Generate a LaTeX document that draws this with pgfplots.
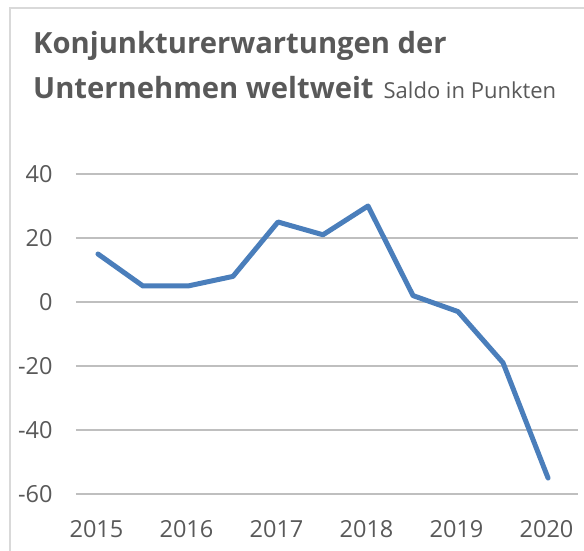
\documentclass[border=0pt]{standalone}
\usepackage{fontspec}
\setmainfont{Open Sans}
\usepackage{pgfplots}
\pgfplotsset{compat=1.18}
\definecolor{txt}{HTML}{595959}
\definecolor{grid}{HTML}{D9D9D9}
\definecolor{line}{HTML}{4A7EBB}
\begin{document}
\begin{tikzpicture}[x=1pt,y=1pt]
\useasboundingbox (0,0) rectangle (584,551);
\draw[grid, line width=2pt] (10,0) -- (10,543) -- (584,543);
\node[anchor=base west, text=txt, font=\fontsize{29.2}{30}\selectfont\bfseries, inner sep=0pt] at (33,497) {Konjunkturerwartungen der};
\node[anchor=base west, text=txt, inner sep=0pt] at (33,452) {\fontsize{29.2}{30}\selectfont\bfseries Unternehmen weltweit\hspace{10pt}\fontsize{22}{22}\mdseries\selectfont Saldo in Punkten};
\begin{axis}[
  at={(76pt,57pt)}, anchor=south west,
  scale only axis, width=502pt, height=320pt,
  xmin=2014.756, xmax=2020.333, ymin=-60, ymax=40,
  axis line style={draw=none},
  xtick={2015,2016,2017,2018,2019,2020},
  xticklabels={2015,2016,2017,2018,2019,2020},
  ytick={-60,-40,-20,0,20,40},
  xmajorgrids=false, ymajorgrids=true, grid style={grid, line width=1.5pt},
  major tick length=0pt, xtick style={draw=none}, ytick style={draw=none},
  tick label style={text=txt, font=\fontsize{23.5}{23.5}\selectfont},
  /pgf/number format/assume math mode=true,
  yticklabel style={xshift=-20pt},
  xticklabel style={yshift=-23pt, xshift=-1.5pt},
  clip=false,
]
\addplot[line, line width=5pt, line join=round, line cap=round] coordinates {
(2015,15) (2015.5,5) (2016,5) (2016.5,8) (2017,25) (2017.5,21)
(2018,30) (2018.5,2) (2019,-3) (2019.5,-19) (2020,-55)};
\end{axis}
\end{tikzpicture}
\end{document}
